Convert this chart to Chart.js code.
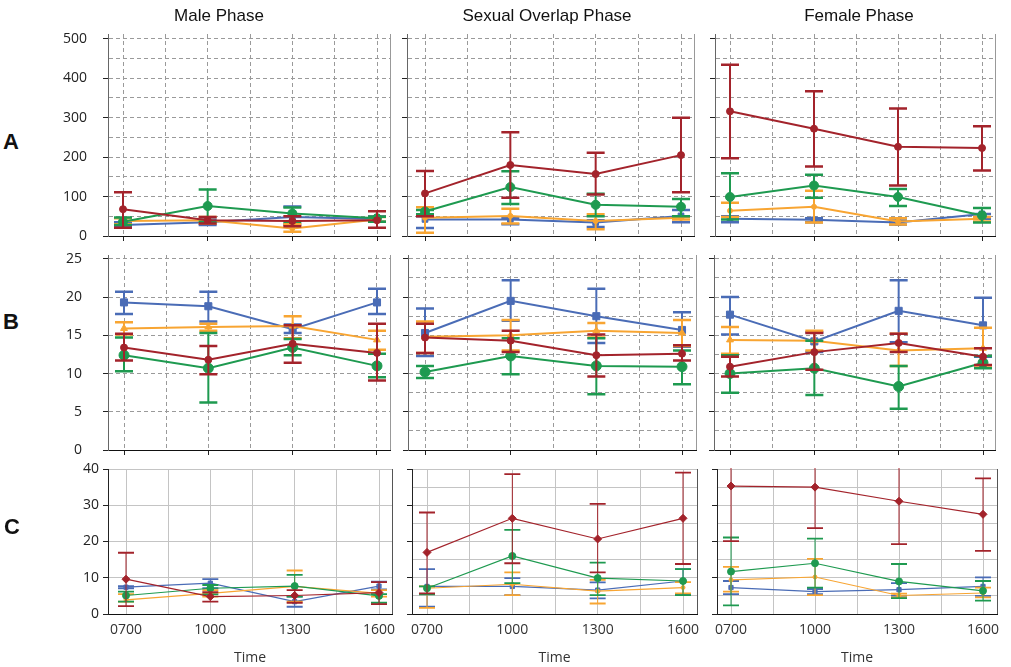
<!DOCTYPE html>
<html>
<head>
<meta charset="utf-8">
<script src="https://cdn.jsdelivr.net/npm/chart.js@4.4.0/dist/chart.umd.min.js"></script>
<style>
body { margin: 0; background: #fff; width: 1011px; height: 667px; position: relative; overflow: hidden; }
canvas { position: absolute; }
.lbl { position: absolute; transform: translate(-50%, -50%); white-space: nowrap; color: #111; }
.phase { font: 17px "Liberation Sans", Arial, sans-serif; }
.row { font: bold 22px "Liberation Sans", Arial, sans-serif; }
</style>
</head>
<body>
<script>
// Categories and labels
const times = ['0700', '1000', '1300', '1600'];
const phases = ['Male Phase', 'Sexual Overlap Phase', 'Female Phase'];
const rowNames = ['A', 'B', 'C'];

// Series order in every array below: red, green, orange, blue

// Row A
const aMaleMean = [[68, 40, 38, 40], [36, 76, 57, 45], [38, 40, 19, 42], [28, 35, 48, 43]];
const aMaleLo   = [[21, 32, 25, 21], [28, 36, 36, 36], [30, 32, 11, 36], [22, 28, 30, 36]];
const aMaleHi   = [[111, 48, 50, 63], [47, 118, 72, 49], [45, 48, 30, 48], [35, 42, 75, 50]];

const aOverMean = [[108, 180, 157, 205], [62, 124, 79, 74], [46, 51, 38, 46], [42, 42, 34, 51]];
const aOverLo   = [[50, 97, 105, 111], [55, 81, 50, 50], [8, 32, 17, 42], [20, 30, 23, 35]];
const aOverHi   = [[165, 263, 211, 300], [66, 164, 107, 94], [73, 69, 55, 49], [50, 45, 40, 66]];

const aFemMean = [[316, 272, 226, 223], [99, 128, 99, 52], [64, 74, 37, 44], [44, 41, 34, 56]];
const aFemLo   = [[197, 176, 128, 166], [42, 97, 76, 34], [48, 34, 29, 37], [35, 35, 29, 44]];
const aFemHi   = [[434, 367, 323, 278], [159, 155, 119, 71], [84, 115, 45, 48], [50, 45, 39, 56]];

// Row B
const bMaleMean = [[13.4, 11.8, 13.9, 12.7], [12.4, 10.7, 13.4, 11.0], [15.9, 16.1, 16.2, 14.4], [19.3, 18.8, 15.8, 19.3]];
const bMaleLo   = [[11.7, 9.9, 11.4, 9.1], [10.3, 6.2, 12.4, 9.5], [15.1, 15.6, 14.6, 13.1], [17.8, 16.8, 15.3, 17.8]];
const bMaleHi   = [[15.2, 13.6, 16.3, 16.5], [14.7, 15.3, 14.5, 12.6], [16.7, 16.5, 17.5, 15.6], [20.7, 20.7, 16.4, 21.1]];

const bOverMean = [[14.7, 14.3, 12.4, 12.6], [10.2, 12.3, 11.0, 10.9], [14.8, 15.0, 15.6, 15.3], [15.3, 19.5, 17.5, 15.7]];
const bOverLo   = [[12.7, 12.8, 9.6, 11.7], [9.4, 9.9, 7.3, 8.6], [12.7, 13.0, 14.7, 13.6], [12.3, 16.9, 14.0, 13.5]];
const bOverHi   = [[16.5, 15.6, 15.1, 13.7], [11.0, 14.6, 14.6, 13.0], [16.8, 17.0, 16.6, 17.0], [18.5, 22.2, 21.1, 18.0]];

const bFemMean = [[10.9, 12.8, 14.0, 12.2], [10.0, 10.7, 8.3, 11.4], [14.4, 14.3, 13.0, 13.3], [17.7, 14.2, 18.2, 16.3]];
const bFemLo   = [[9.6, 10.5, 12.8, 11.1], [7.5, 7.2, 5.4, 10.7], [12.6, 13.0, 11.0, 10.8], [15.1, 12.8, 14.1, 12.2]];
const bFemHi   = [[12.2, 15.3, 15.2, 13.3], [12.4, 14.3, 11.0, 12.3], [16.1, 15.6, 15.2, 16.0], [20.0, 15.4, 22.2, 19.9]];

// Row C
const cMaleMean = [[9.6, 4.8, 5.1, 5.9], [5.1, 7.1, 7.7, 5.0], [3.9, 5.7, 7.6, 5.7], [7.4, 8.5, 3.4, 7.7]];
const cMaleLo   = [[2.2, 3.4, 3.1, 2.7], [3.4, 5.4, 4.8, 3.1], [3.4, 4.8, 3.4, 4.8], [7.1, 7.1, 2.0, 6.8]];
const cMaleHi   = [[16.9, 6.0, 6.6, 8.8], [6.2, 8.0, 10.8, 5.5], [5.5, 6.6, 12.0, 6.6], [7.7, 9.6, 4.8, 8.9]];

const cOverMean = [[17.0, 26.4, 20.7, 26.4], [7.1, 16.0, 9.9, 9.1], [7.1, 8.2, 6.3, 7.3], [7.6, 7.6, 6.6, 9.1]];
const cOverLo   = [[5.7, 14.0, 11.5, 13.8], [5.4, 8.5, 5.2, 5.2], [1.7, 5.2, 2.9, 5.7], [2.0, 5.2, 4.3, 5.4]];
const cOverHi   = [[28.0, 38.6, 30.4, 39.0], [7.6, 23.2, 14.2, 12.4], [7.6, 11.5, 9.4, 8.8], [12.4, 9.9, 8.7, 12.4]];

const cFemMean = [[35.3, 35.0, 31.1, 27.5], [11.7, 14.0, 9.0, 6.4], [9.4, 10.2, 5.1, 5.8], [7.3, 6.2, 6.7, 7.6]];
const cFemLo   = [[20.1, 23.7, 19.3, 17.4], [2.4, 7.3, 4.4, 3.7], [6.2, 5.2, 4.6, 4.6], [5.5, 5.5, 5.0, 5.0]];
const cFemHi   = [[48, 46, 43, 37.4], [21.1, 20.8, 13.8, 9.1], [13.0, 15.2, 5.6, 7.3], [9.1, 6.9, 8.5, 10.1]];

const panels = [
    [[aMaleMean, aMaleLo, aMaleHi], [aOverMean, aOverLo, aOverHi], [aFemMean, aFemLo, aFemHi]],
    [[bMaleMean, bMaleLo, bMaleHi], [bOverMean, bOverLo, bOverHi], [bFemMean, bFemLo, bFemHi]],
    [[cMaleMean, cMaleLo, cMaleHi], [cOverMean, cOverLo, cOverHi], [cFemMean, cFemLo, cFemHi]]
];

// Layout (page pixels): plot area edges and first/last category position
const colors = ['#A3232B', '#1E9A50', '#F8A532', '#4A6CB6'];
const rows = [
    { top: 34, bottom: 236, yMax: 512, step: 50, major: 100, dash: [4, 3], grid: '#9a9a9a',
      lineW: 2, errW: 2, capW: 2.5, cap: 9, styles: ['circle', 'circle', 'circle', 'rect'], radius: [3.5, 4.5, 2.5, 4],
      yPad: 16, cols: [{ l: 108, r: 390, c0: 123, c3: 377 }, { l: 407, r: 694, c0: 425, c3: 681 }, { l: 715, r: 995, c0: 730, c3: 982 }] },
    { top: 255, bottom: 450, yMax: 25.5, step: 2.5, major: 5, dash: [4, 3], grid: '#9a9a9a',
      lineW: 2, errW: 2, capW: 2.5, cap: 9, styles: ['circle', 'circle', 'triangle', 'rect'], radius: [3.5, 5, 4, 5],
      yPad: 21, cols: [{ l: 108, r: 390, c0: 124, c3: 377 }, { l: 408, r: 696, c0: 425, c3: 682 }, { l: 714, r: 995, c0: 730, c3: 983 }] },
    { top: 469, bottom: 614, yMax: 40, step: 5, major: 10, dash: [], grid: '#c4c4c4',
      lineW: 1.2, errW: 1, capW: 1.8, cap: 8, styles: ['rectRot', 'circle', 'circle', 'rect'], radius: [4, 3.5, 2, 3],
      yPad: 4, cols: [{ l: 108, r: 392, c0: 126, c3: 379 }, { l: 412, r: 697, c0: 427, c3: 683 }, { l: 717, r: 997, c0: 731, c3: 983 }] }
];

// Error bars drawn right after each dataset, clipped to the plot
const errorBars = {
    id: 'errorBars',
    afterDatasetDraw(chart, args, opts) {
        const { ctx, chartArea: a } = chart;
        const y = chart.scales.y;
        const ds = chart.data.datasets[args.index];
        ctx.save();
        ctx.beginPath();
        ctx.rect(a.left, a.top - 1, a.right - a.left, a.bottom - a.top + 1);
        ctx.clip();
        ctx.strokeStyle = ds.borderColor;
        args.meta.data.forEach((pt, i) => {
            const yl = y.getPixelForValue(ds.errLo[i]);
            const yh = y.getPixelForValue(ds.errHi[i]);
            ctx.lineWidth = opts.errW;
            ctx.beginPath();
            ctx.moveTo(pt.x, yl);
            ctx.lineTo(pt.x, yh);
            ctx.stroke();
            ctx.lineWidth = opts.capW;
            ctx.beginPath();
            ctx.moveTo(pt.x - opts.cap, yl); ctx.lineTo(pt.x + opts.cap, yl);
            ctx.moveTo(pt.x - opts.cap, yh); ctx.lineTo(pt.x + opts.cap, yh);
            ctx.stroke();
        });
        ctx.restore();
    }
};

// Right-hand frame line of each plot
const frame = {
    id: 'frame',
    beforeDatasetsDraw(chart, args, opts) {
        const { ctx, chartArea: a } = chart;
        ctx.save();
        ctx.strokeStyle = opts.color;
        ctx.lineWidth = 1;
        ctx.beginPath();
        ctx.moveTo(a.right + 0.5, a.top);
        ctx.lineTo(a.right + 0.5, a.bottom);
        ctx.stroke();
        ctx.restore();
    }
};

const isWhole = v => Math.abs(v - Math.round(v)) < 1e-6;

function makePanel(r, c) {
    const R = rows[r], P = R.cols[c];
    const [mean, lo, hi] = panels[r][c];
    const yW = c === 0 ? 60 : 8;
    // generous margins so tick-label padding never moves the plot area
    const padT = 30, padR = 10;
    const padB = r === 2 ? 0 : 30;
    const xH = r === 2 ? 52 : 8;
    const unit = (P.c3 - P.c0) / 3;
    const xMin = (P.l - P.c0) / unit;
    const xMax = 3 + (P.r - P.c3) / unit;

    const canvas = document.createElement('canvas');
    const w = P.r - P.l + yW + padR;
    const h = R.bottom - R.top + padT + xH + padB;
    canvas.width = w;
    canvas.height = h;
    canvas.style.left = (P.l - yW) + 'px';
    canvas.style.top = (R.top - padT) + 'px';
    document.body.appendChild(canvas);

    const datasets = mean.map((m, s) => ({
        data: m.map((v, i) => ({ x: i, y: v })),
        errLo: lo[s],
        errHi: hi[s],
        borderColor: colors[s],
        backgroundColor: colors[s],
        borderWidth: R.lineW,
        pointStyle: R.styles[s],
        pointRadius: R.radius[s],
        pointBorderWidth: 1,
        tension: 0
    }));

    new Chart(canvas.getContext('2d'), {
        type: 'line',
        data: { datasets },
        options: {
            responsive: false,
            animation: false,
            events: [],
            layout: { padding: { top: padT, right: padR, left: 0, bottom: padB } },
            plugins: {
                legend: { display: false },
                tooltip: { enabled: false },
                errorBars: { errW: R.errW, capW: R.capW, cap: R.cap },
                frame: { color: r === 2 ? '#555' : '#999' }
            },
            scales: {
                x: {
                    type: 'linear',
                    min: xMin,
                    max: xMax,
                    ticks: {
                        stepSize: 0.5,
                        includeBounds: false,
                        autoSkip: false,
                        maxRotation: 0,
                        display: r === 2,
                        padding: 4,
                        color: '#333',
                        font: { family: '"Open Sans", sans-serif', size: 14 },
                        callback: v => isWhole(v) ? times[Math.round(v)] : ''
                    },
                    grid: {
                        color: R.grid,
                        lineWidth: 1,
                        tickLength: r === 2 ? 4 : 5,
                        tickColor: ctx => (ctx.tick && isWhole(ctx.tick.value) && r !== 2) ? '#222' : 'rgba(0,0,0,0)'
                    },
                    border: { color: '#111', width: 1, dash: R.dash },
                    title: {
                        display: r === 2,
                        text: 'Time',
                        color: '#333',
                        padding: 0,
                        font: { family: '"Open Sans", sans-serif', size: 14 }
                    },
                    afterFit: s => { s.height = xH; }
                },
                y: {
                    min: 0,
                    max: R.yMax,
                    ticks: {
                        stepSize: R.step,
                        includeBounds: false,
                        display: c === 0,
                        padding: R.yPad,
                        color: '#222',
                        font: { family: '"Open Sans", sans-serif', size: 14 },
                        callback: v => (Math.abs(v % R.major) < 1e-6) ? String(v) : ''
                    },
                    grid: {
                        color: R.grid,
                        lineWidth: 1,
                        tickLength: 5,
                        tickColor: ctx => (ctx.tick && Math.abs(ctx.tick.value % R.major) < 1e-6) ? '#222' : 'rgba(0,0,0,0)'
                    },
                    border: { color: r === 2 ? '#222' : '#666', width: 1, dash: R.dash },
                    afterFit: s => { s.width = yW; }
                }
            }
        },
        plugins: [frame, errorBars]
    });
}

for (let r = 0; r < 3; r++) {
    for (let c = 0; c < 3; c++) makePanel(r, c);
}

// Column titles and row letters
function addLabel(text, x, y, cls) {
    const d = document.createElement('div');
    d.className = 'lbl ' + cls;
    d.textContent = text;
    d.style.left = x + 'px';
    d.style.top = y + 'px';
    document.body.appendChild(d);
}
[219, 547, 859].forEach((x, i) => addLabel(phases[i], x, 16, 'phase'));
[[11, 142], [11, 322], [12, 527]].forEach((p, i) => addLabel(rowNames[i], p[0], p[1], 'row'));
</script>
</body>
</html>
